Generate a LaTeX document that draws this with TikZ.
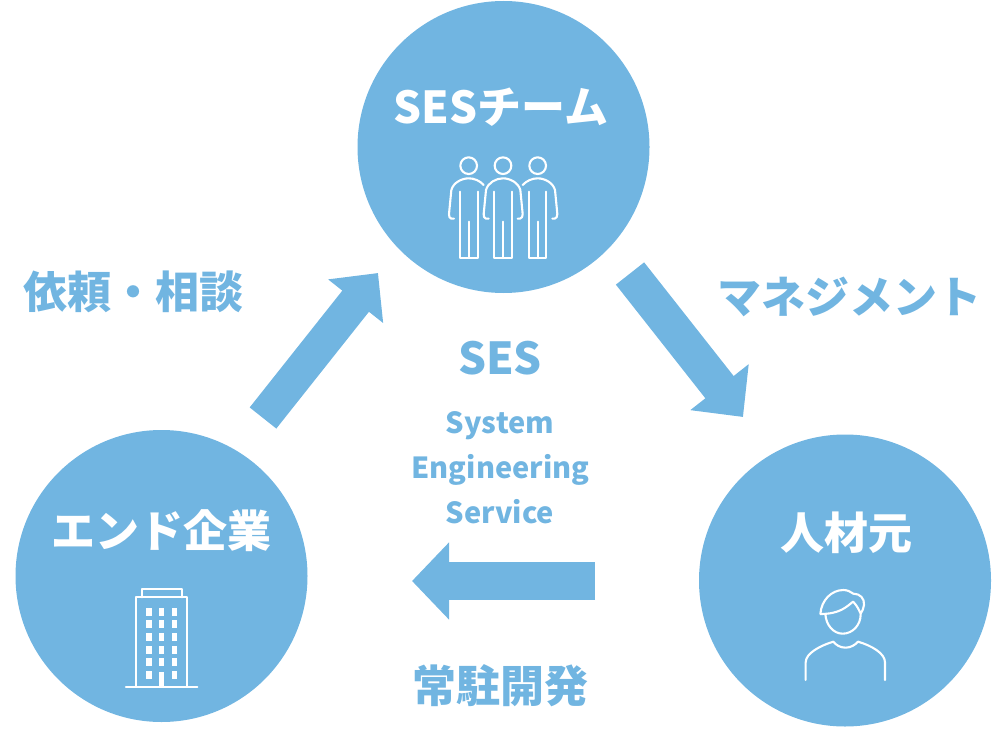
\documentclass[tikz,border=0pt]{standalone}
\usepackage{fontspec}
\setmainfont{Noto Sans CJK JP}
\usetikzlibrary{arrows.meta}
\definecolor{sky}{HTML}{71B5E1}
\tikzset{
  disc/.style={circle,fill=sky,draw=none,inner sep=0pt,minimum size=292pt},
  title/.style={inner sep=0pt,text=white,font=\fontsize{44}{44}\selectfont\bfseries},
  label/.style={inner sep=0pt,text=sky,font=\fontsize{44}{44}\selectfont\bfseries},
  small/.style={inner sep=0pt,anchor=base,text=sky,font=\fontsize{29}{30}\selectfont\bfseries},
  icon/.style={draw=white,line width=2.1pt,line join=round,line cap=round},
  blockA/.style={line width=34pt,color=sky,-{Triangle[length=36pt,width=68pt]}},
  blockB/.style={line width=36pt,color=sky,-{Triangle[length=38pt,width=72pt]}},
  blockC/.style={line width=38pt,color=sky,-{Triangle[length=37pt,width=75pt]}},
}
\begin{document}
\begin{tikzpicture}[x=1pt,y=-1pt]
\useasboundingbox (0,0) rectangle (1000,738);
\node[disc] (team) at (503.5,147) {};
\node[disc] (client) at (161.5,576) {};
\node[disc] (source) at (845,580.5) {};
\node[title] (teamT) at (501,107) {SESチーム};
\node[title] (clientT) at (161,531) {エンド企業};
\node[title] (sourceT) at (846,533) {人材元};
\node[label] (lreq) at (133.5,292) {依頼・相談};
\node[label] (lman) at (849,296.5) {マネジメント};
\node[label] (ldev) at (500,686) {常駐開発};
\node[label,anchor=base] (ses) at (500,374) {SES};
\node[small] (s1) at (500,433) {System};
\node[small] (s2) at (500.5,478) {Engineering};
\node[small] (s3) at (500,523) {Service};
% block arrows
\coordinate (a1) at (263,418); \coordinate (a2) at (378,273);
\coordinate (b1) at (630,273.5); \coordinate (b2) at (743,417);
\coordinate (c1) at (595,581); \coordinate (c2) at (412,581);
\draw[blockA] (a1) -- (a2);
\draw[blockB] (b1) -- (b2);
\draw[blockC] (c1) -- (c2);
% team icon
\begin{scope}[shift={(430,140)},scale=1/3,icon]
  \draw (116,77) circle[radius=25];
  \draw (219,77) circle[radius=25];
  \draw (323,77) circle[radius=25];
  % left person
  \draw (72,236) -- (64,236) .. controls (58,234) and (57,230) .. (57,222) -- (64,150) .. controls (70,128) and (95,115) .. (116,115) .. controls (132,115) and (150,122) .. (161,135);
  \draw (90,155) -- (90,354) -- (143,354) -- (143,155);
  \draw (116,245) -- (116,354);
  % middle person
  \draw (176,236) -- (168,236) .. controls (162,234) and (161,230) .. (161,222) -- (168,150) .. controls (174,128) and (198,115) .. (219,115) .. controls (240,115) and (265,128) .. (271,150) -- (278,222) .. controls (278,230) and (276,234) .. (270,236) -- (263,236);
  \draw (193,155) -- (193,354) -- (246,354) -- (246,155);
  \draw (219,245) -- (219,354);
  % right person
  \draw (278,135) .. controls (290,122) and (307,115) .. (323,115) .. controls (344,115) and (369,128) .. (375,150) -- (382,222) .. controls (382,230) and (380,234) .. (374,236) -- (367,236);
  \draw (296,155) -- (296,354) -- (349,354) -- (349,155);
  \draw (323,245) -- (323,354);
\end{scope}
% building icon
\begin{scope}[shift={(110,575)},scale=1/3,icon]
  \draw (77,335) -- (77,67) -- (232,67) -- (232,335);
  \draw (96,67) -- (96,43) -- (215,43) -- (215,67);
  \draw (48,335) -- (262,335);
  \foreach \cx in {117,155,193}
    \foreach \cy in {110,148,187,225,262}
      \fill[white] (\cx-8,\cy-12) rectangle (\cx+8,\cy+12);
  \foreach \cx in {117,193}
    \fill[white] (\cx-8,300-12) rectangle (\cx+8,300+12);
  \fill[white] (147,290) rectangle (163,335);
\end{scope}
% person icon
\begin{scope}[shift={(790,575)},scale=1/3,icon]
  \draw (106,117) .. controls (108,150) and (130,176) .. (158,176) .. controls (188,176) and (212,150) .. (212,118);
  \draw (91,117) .. controls (94,75) and (125,45) .. (160,45) .. controls (172,45) and (182,50) .. (190,56) .. controls (210,56) and (224,70) .. (222,90) .. controls (221,100) and (217,108) .. (212,116) .. controls (205,100) and (198,88) .. (189,80) .. controls (170,95) and (150,117) .. (91,117);
  \draw (47,315) -- (47,262) .. controls (47,235) and (90,212) .. (130,200) .. controls (138,210) and (150,218) .. (167,218) .. controls (182,218) and (195,210) .. (204,200) .. controls (245,212) and (285,235) .. (285,262) -- (285,315);
\end{scope}
\end{tikzpicture}
\end{document}
